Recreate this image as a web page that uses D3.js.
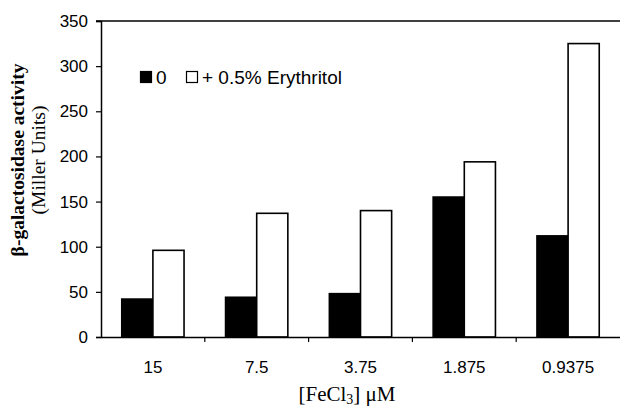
<!DOCTYPE html>
<html>
<head>
<meta charset="utf-8">
<script src="https://cdn.jsdelivr.net/npm/d3@7"></script>
<style>
  body { margin: 0; background: #fff; }
  svg { display: block; }
  .tick text { font-family: Arial, "Liberation Sans", sans-serif; font-size: 17px; fill: #000; }
</style>
</head>
<body>
<svg id="chart" width="620" height="409"></svg>
<script>
// FeCl3 concentrations (uM)
const categories = ["15", "7.5", "3.75", "1.875", "0.9375"]
const seriesNames = ["0", "+ 0.5% Erythritol"]
const noErythritol = [42, 44, 48, 155, 112]
const withErythritol = [96, 137, 140, 194, 325]
const yTicks = [0, 50, 100, 150, 200, 250, 300, 350]

const svg = d3.select("#chart")
const margin = {top: 21, right: 0, bottom: 72, left: 101}
const width = 620 - margin.left - margin.right
const height = 409 - margin.top - margin.bottom

const g = svg.append("g").attr("transform", `translate(${margin.left},${margin.top})`)

const x = d3.scaleBand().domain(categories).range([0, width]).paddingInner(0.4).paddingOuter(0.2)
const x1 = d3.scaleBand().domain(seriesNames).range([0, x.bandwidth()])
const y = d3.scaleLinear().domain([0, 350]).range([height, 0])

const fills = {"0": "#000", "+ 0.5% Erythritol": "#fff"}

const rows = categories.map((c, i) => ({
    cat: c,
    vals: [
        {s: seriesNames[0], v: noErythritol[i]},
        {s: seriesNames[1], v: withErythritol[i]}
    ]
}))

// bars
g.selectAll(".grp")
    .data(rows)
    .enter().append("g")
    .attr("class", "grp")
    .attr("transform", d => `translate(${x(d.cat)},0)`)
    .selectAll("rect")
    .data(d => d.vals)
    .enter().append("rect")
    .attr("x", d => x1(d.s))
    .attr("y", d => y(d.v))
    .attr("width", x1.bandwidth())
    .attr("height", d => height - y(d.v))
    .style("fill", d => fills[d.s])
    .style("stroke", "#000")
    .style("stroke-width", 1.6)

// y axis
const yAxis = g.append("g")
    .call(d3.axisLeft(y).tickValues(yTicks).tickSize(5).tickPadding(8))
yAxis.select(".domain").attr("stroke", "#000").attr("stroke-width", 1.5)
yAxis.selectAll(".tick line").attr("stroke", "#000").attr("stroke-width", 1.2)

// top frame line
g.append("line")
    .attr("x1", -5).attr("x2", width)
    .attr("y1", y(350)).attr("y2", y(350))
    .attr("stroke", "#000").attr("stroke-width", 1.5)

// x axis: labels centred on groups, ticks between groups
const xAxis = g.append("g")
    .attr("transform", `translate(0,${height})`)
    .call(d3.axisBottom(x).tickSize(0).tickPadding(24))
xAxis.select(".domain").attr("stroke", "#000").attr("stroke-width", 1.5)

const step = x.step()
g.selectAll(".xsep")
    .data(categories.slice(1))
    .enter().append("line")
    .attr("class", "xsep")
    .attr("x1", (d, i) => (i + 1) * step)
    .attr("x2", (d, i) => (i + 1) * step)
    .attr("y1", height).attr("y2", height + 5)
    .attr("stroke", "#000").attr("stroke-width", 1.2)

// legend
const legend = svg.append("g").attr("transform", "translate(140,71)")
const legendX = [0, 46]
seriesNames.forEach((s, i) => {
    legend.append("rect")
        .attr("x", legendX[i] + 0.5).attr("y", 0.5)
        .attr("width", 11).attr("height", 11)
        .style("fill", fills[s]).style("stroke", "#000").style("stroke-width", 1.2)
    legend.append("text")
        .attr("x", legendX[i] + 16).attr("y", 13)
        .style("font-family", "Arial, 'Liberation Sans', sans-serif")
        .style("font-size", "19px")
        .text(s)
})

// y title
const yTitle = svg.append("text")
    .attr("transform", "translate(0,160) rotate(-90)")
    .attr("text-anchor", "middle")
    .style("font-family", "'Times New Roman', 'Liberation Serif', serif")
    .style("font-size", "19.5px")
yTitle.append("tspan").attr("x", 0).attr("y", 24)
    .style("font-weight", "bold").text("β-galactosidase activity")
yTitle.append("tspan").attr("x", 0).attr("y", 45).text("(Miller Units)")

// x title
const xTitle = svg.append("text")
    .attr("x", 347).attr("y", 401)
    .attr("text-anchor", "middle")
    .style("font-family", "'Times New Roman', 'Liberation Serif', serif")
    .style("font-size", "21px")
xTitle.append("tspan").text("[FeCl")
xTitle.append("tspan").attr("dy", 3).style("font-size", "14px").text("3")
xTitle.append("tspan").attr("dy", -3).text("] μM")
</script>
</body>
</html>
